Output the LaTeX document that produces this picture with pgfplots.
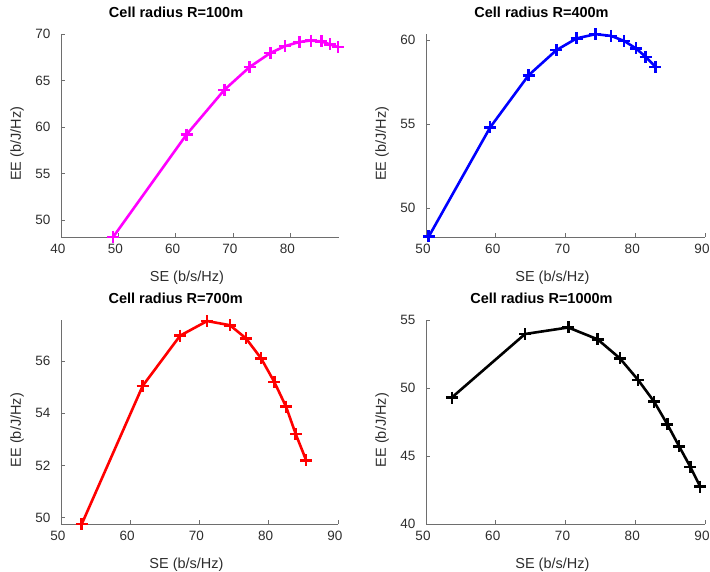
\documentclass[border=0pt]{standalone}
\usepackage{fontspec}
\setmainfont{Liberation Sans}
\usepackage{pgfplots}
\pgfplotsset{compat=1.18}
\definecolor{axgray}{RGB}{110,110,110}
\definecolor{txtgray}{RGB}{45,45,45}
\pgfplotsset{
  myax/.style={
    scale only axis,
    anchor=north west,
    axis lines*=left,
    axis line style={axgray, line width=0.6pt},
    tick style={axgray, line width=0.6pt},
    tick align=inside, major tick length=4pt,
    tick label style={font=\fontsize{13.5}{16}\selectfont, text=txtgray},
    /pgf/number format/assume math mode=true,
    xticklabel style={yshift=-4pt, xshift=-3pt},
    yticklabel style={xshift=-7pt},
    label style={font=\fontsize{14.5}{17}\selectfont, text=txtgray},
    xlabel={SE (b/s/Hz)}, ylabel={EE (b/J/Hz)},
    xlabel style={at={(rel axis cs:0.453,0)}, anchor=center, yshift=-41pt},
    ylabel style={at={([xshift=-44pt]rel axis cs:0,0.46)}, anchor=center},
    title style={at={(rel axis cs:0.414,1)}, anchor=center, yshift=16pt,
      font=\bfseries\fontsize{14.5}{17}\selectfont, text=black},
    clip=false,
    every axis plot/.append style={line width=2.6pt, mark=+, mark size=6pt,
      mark options={line width=2.6pt}},
  }
}
\begin{document}
\begin{tikzpicture}[x=1pt,y=1pt]
\path[use as bounding box] (0,0) rectangle (710,-572);
% R = 100 m
\begin{axis}[myax, at={(61pt,-34pt)}, width=278pt, height=203pt,
  xmin=40, xmax=88.5, ymin=48.2, ymax=70,
  xtick={40,50,60,70,80}, ytick={50,55,60,65,70},
  title={Cell radius R=100m}]
\addplot[color={rgb,1:red,1;green,0;blue,1}] coordinates {
(49.1,48.2) (61.9,59.2) (68.5,64.0) (72.9,66.45) (76.5,67.95) (79.1,68.7)
(81.6,69.15) (83.6,69.3) (85.4,69.2) (86.9,68.9) (88.3,68.6)};
\end{axis}
% R = 400 m
\begin{axis}[myax, at={(426pt,-34pt)}, width=279pt, height=203pt,
  xmin=50, xmax=90, ymin=48.27, ymax=60.36,
  xtick={50,60,70,80,90}, ytick={50,55,60},
  title={Cell radius R=400m}]
\addplot[color={rgb,1:red,0;green,0;blue,1}] coordinates {
(50.4,48.3) (59.2,54.8) (64.7,57.9) (68.7,59.4) (71.6,60.1) (74.3,60.35)
(76.5,60.25) (78.4,59.95) (80.1,59.5) (81.5,59.0) (82.9,58.4)};
\end{axis}
% R = 700 m
\begin{axis}[myax, at={(61pt,-320pt)}, width=277pt, height=204pt,
  xmin=50, xmax=90, ymin=49.76, ymax=57.57,
  xtick={50,60,70,80,90}, ytick={50,52,54,56},
  title={Cell radius R=700m}]
\addplot[color={rgb,1:red,1;green,0;blue,0}] coordinates {
(53.0,49.76) (61.8,55.05) (67.2,56.97) (71.1,57.53) (74.4,57.37) (76.7,56.87)
(78.9,56.1) (80.8,55.2) (82.5,54.25) (83.9,53.2) (85.4,52.2)};
\end{axis}
% R = 1000 m
\begin{axis}[myax, at={(426pt,-320pt)}, width=279pt, height=204pt,
  xmin=50, xmax=90, ymin=40, ymax=55,
  xtick={50,60,70,80,90}, ytick={40,45,50,55},
  title={Cell radius R=1000m}]
\addplot[color=black] coordinates {
(53.7,49.3) (64.2,53.97) (70.4,54.45) (74.6,53.58) (77.8,52.18) (80.4,50.6)
(82.7,49.0) (84.6,47.33) (86.3,45.7) (87.9,44.2) (89.3,42.75)};
\end{axis}
\end{tikzpicture}
\end{document}
